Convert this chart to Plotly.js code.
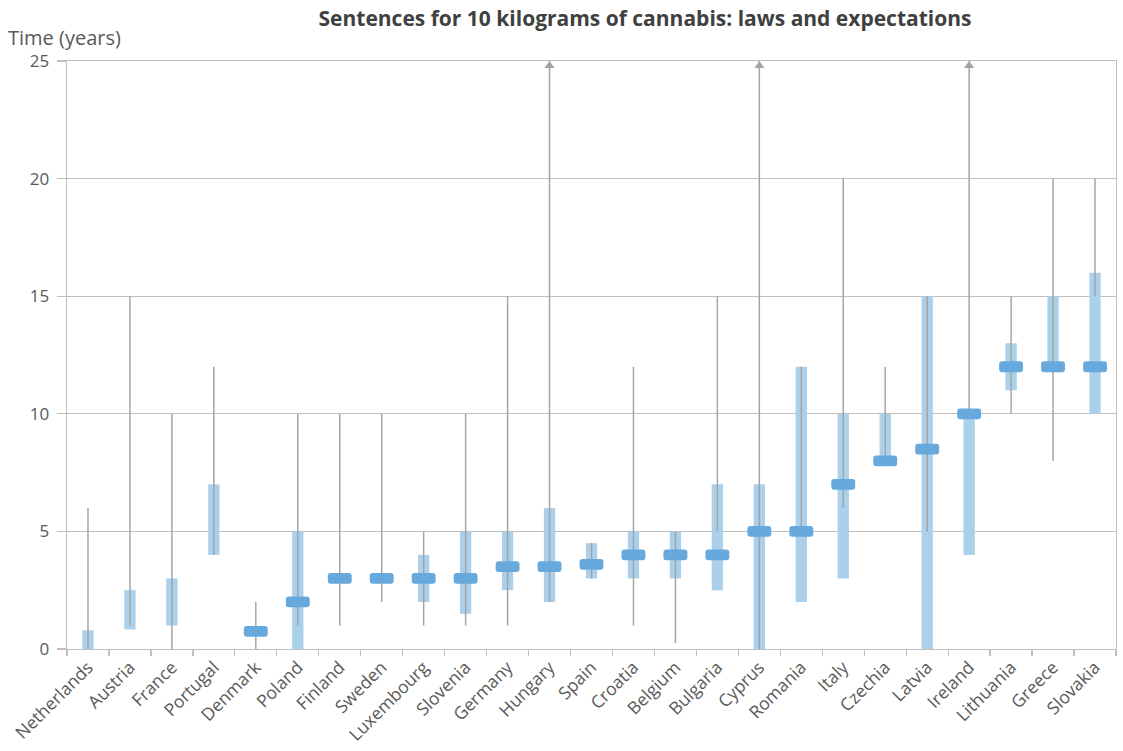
<!DOCTYPE html>
<html>
<head>
<meta charset="utf-8">
<script src="https://cdn.plot.ly/plotly-3.0.1.min.js"></script>
<style>html,body{margin:0;padding:0;background:#fff;}#chart{width:1123px;height:751px;}</style>
</head>
<body>
<div id="chart"></div>
<script>
// ---- data ----
const countries = ["Netherlands","Austria","France","Portugal","Denmark","Poland","Finland","Sweden","Luxembourg","Slovenia","Germany","Hungary","Spain","Croatia","Belgium","Bulgaria","Cyprus","Romania","Italy","Czechia","Latvia","Ireland","Lithuania","Greece","Slovakia"];
// legal range (years); openEnded = line continues beyond the axis top (arrow)
const legalMin = [0,1,0,4,0,1,1,2,1,1,1,2,3,1,0.25,5,0,5,6,8,5,10,10,8,15];
const legalMax = [6,15,10,12,2,10,10,10,5,10,15,25,4.5,12,5,15,25,12,20,12,15,25,15,20,20];
const openEnded = [false,false,false,false,false,false,false,false,false,false,false,true,false,false,false,false,true,false,false,false,false,true,false,false,false];
// expected range (years)
const expLow  = [0,0.83,1,4,null,0,null,null,2,1.5,2.5,2,3,3,3,2.5,0,2,3,8,0,4,11,12,10];
const expHigh = [0.8,2.5,3,7,null,5,null,null,4,5,5,6,4.5,5,5,7,7,12,10,10,15,10,13,15,16];
// typical expectation (years)
const typical = [null,null,null,null,0.75,2,3,3,3,3,3.5,3.5,3.6,4,4,4,5,5,7,8,8.5,10,12,12,12];

const yMax = 25;

// ---- styles ----
const lightBlue = "#abd0ec";
const darkBlue = "#67a9dc";
const lineGrey = "#a3a3a3";
const gridGrey = "#bfbfbf";
const textGrey = "#595959";
const markHalf = 0.23;   // half-height of typical marker in years
const markOverlap = 0.08; // overlap of the two marker halves to avoid a seam

const rangeBar = {
  type: "bar", x: countries,
  base: expLow,
  y: expLow.map((v, i) => v === null ? null : expHigh[i] - v),
  width: 0.27,
  marker: { color: lightBlue, line: { width: 0 } },
  hoverinfo: "skip", showlegend: false
};
const legalBar = {
  type: "bar", x: countries,
  base: legalMin,
  y: legalMin.map((v, i) => Math.min(legalMax[i], yMax) - v),
  width: 0.035,
  marker: { color: lineGrey, line: { width: 0 } },
  hoverinfo: "skip", showlegend: false
};
const markUp = {
  type: "bar", x: countries,
  base: typical.map(v => v === null ? null : v - markOverlap),
  y: typical.map(v => v === null ? null : markHalf + markOverlap),
  width: 0.57,
  marker: { color: darkBlue, line: { width: 0 }, cornerradius: 4 },
  hoverinfo: "skip", showlegend: false
};
const markDown = {
  type: "bar", x: countries,
  base: typical.map(v => v === null ? null : v + markOverlap),
  y: typical.map(v => v === null ? null : -(markHalf + markOverlap)),
  width: 0.57,
  marker: { color: darkBlue, line: { width: 0 }, cornerradius: 4 },
  hoverinfo: "skip", showlegend: false
};
const arrows = {
  type: "scatter", mode: "markers",
  x: countries.filter((c, i) => openEnded[i]),
  y: countries.filter((c, i) => openEnded[i]).map(() => yMax - 0.2),
  marker: { symbol: "triangle-up", size: 9, color: lineGrey },
  cliponaxis: false, hoverinfo: "skip", showlegend: false
};

const layout = {
  width: 1123, height: 751,
  margin: { l: 67, r: 7, t: 61, b: 102 },
  paper_bgcolor: "#fff", plot_bgcolor: "#fff",
  barmode: "overlay",
  font: { family: "'Open Sans', 'Liberation Sans', sans-serif", color: textGrey, size: 16 },
  title: {
    text: "<b>Sentences for 10 kilograms of cannabis: laws and expectations</b>",
    x: 0.551, xanchor: "center", xref: "paper",
    y: 0.975, yanchor: "middle",
    font: { size: 21, color: "#404040" }
  },
  xaxis: {
    type: "category",
    tickangle: -45,
    ticks: "outside", ticklen: 6, tickcolor: gridGrey, tickwidth: 1.3,
    tickson: "boundaries",
    showline: true, linecolor: gridGrey, linewidth: 1.3, mirror: true,
    showgrid: false, zeroline: false,
    tickfont: { size: 17.5, color: textGrey },
    fixedrange: true
  },
  yaxis: {
    range: [0, yMax],
    tickvals: [0, 5, 10, 15, 20, 25],
    ticks: "outside", ticklen: 9, tickcolor: gridGrey, tickwidth: 1.3,
    ticklabelstandoff: 4,
    showline: true, linecolor: gridGrey, linewidth: 1.3, mirror: true,
    showgrid: true, gridcolor: gridGrey, gridwidth: 1.3,
    zeroline: false,
    tickfont: { size: 17, color: textGrey },
    fixedrange: true
  },
  annotations: [{
    text: "Time (years)", xref: "paper", yref: "paper",
    x: -0.058, y: 1.04, xanchor: "left", yanchor: "middle",
    showarrow: false, font: { size: 20, color: textGrey }
  }]
};

Plotly.newPlot("chart", [rangeBar, legalBar, markUp, markDown, arrows], layout, { displayModeBar: false, staticPlot: true });
</script>
</body>
</html>
